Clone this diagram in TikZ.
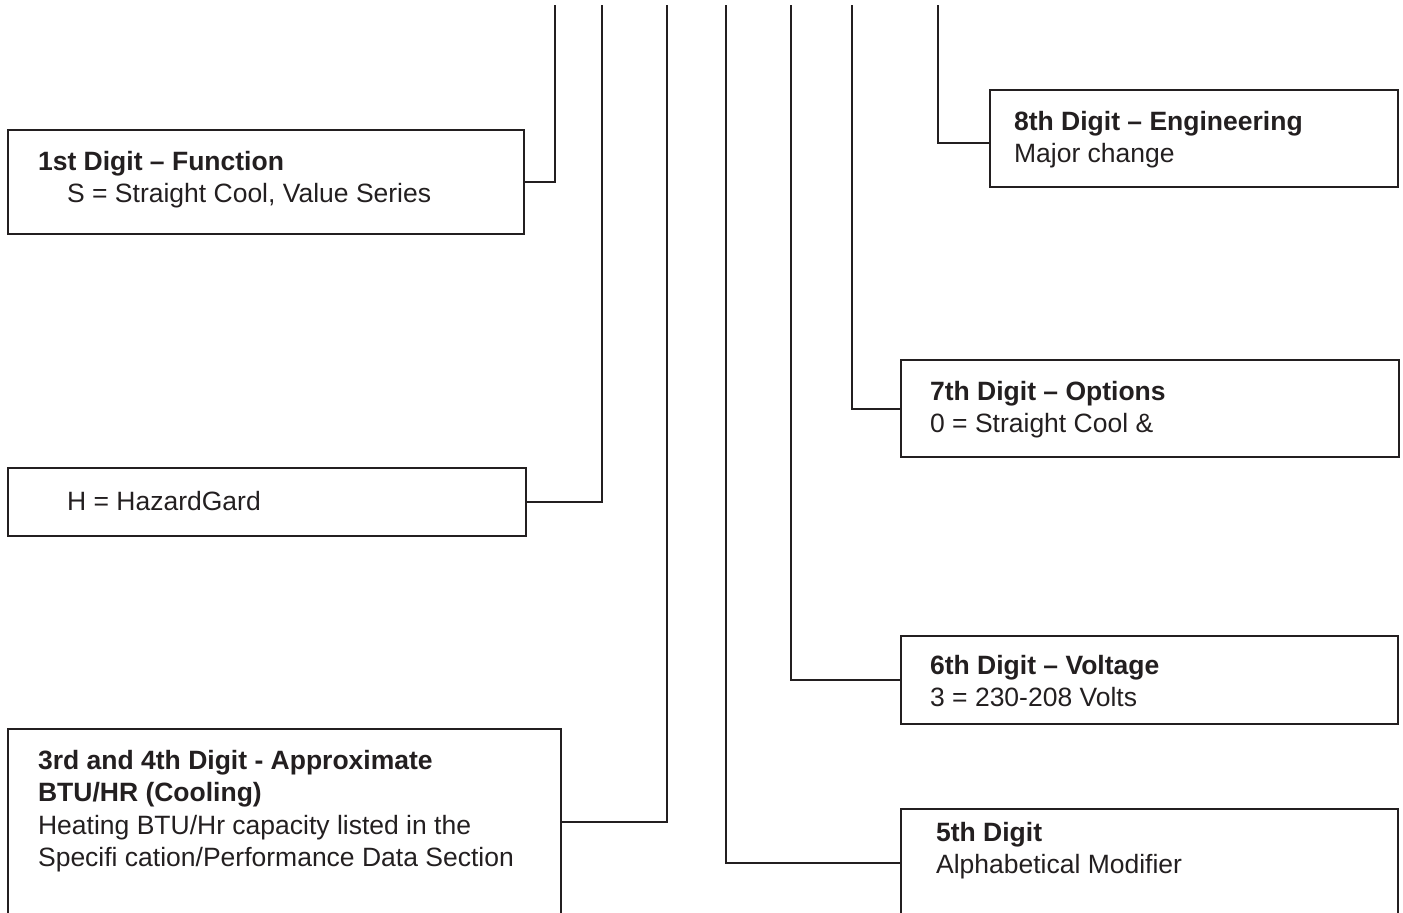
\documentclass[tikz,border=0pt]{standalone}
\usepackage{fontspec}
\setmainfont{Liberation Sans}
\usetikzlibrary{positioning}
\definecolor{ink}{HTML}{231F20}

\begin{document}
\begin{tikzpicture}[x=1pt, y=-1pt, line width=2.2pt, color=ink,
	digitbox/.style={draw, inner sep=0pt, anchor=north west},
	digittext/.style={inner sep=0pt, align=left, font=\fontsize{26.5}{32.5}\selectfont}]
\clip (0, 0) rectangle (1403, 913);
% boxes on the left
\node[digitbox, minimum width=516pt, minimum height=104pt] (d1) at (7, 129) {};
\node[digitbox, minimum width=518pt, minimum height=68pt] (d2) at (7, 467) {};
\node[digitbox, minimum width=553pt, minimum height=186pt] (d34) at (7, 728) {};
% boxes on the right
\node[digitbox, minimum width=408pt, minimum height=97pt] (d8) at (989, 89) {};
\node[digitbox, minimum width=498pt, minimum height=97pt] (d7) at (900, 359) {};
\node[digitbox, minimum width=497pt, minimum height=88pt] (d6) at (900, 635) {};
\node[digitbox, minimum width=497pt, minimum height=108pt] (d5) at (900, 808) {};
% texts
\node[digittext, below right=21pt and 30pt of d1.north west] (d1-text)
	{\textbf{1st Digit – Function}\\\hspace*{29pt}S = Straight Cool, Value Series};
\node[digittext, below right=23pt and 59pt of d2.north west] (d2-text) {H = HazardGard};
\node[digittext, below right=21pt and 30pt of d34.north west] (d34-text)
	{\textbf{3rd and 4th Digit - Approximate}\\\textbf{BTU/HR (Cooling)}\\
	Heating BTU/Hr capacity listed in the\\Specifi cation/Performance Data Section};
\node[digittext, below right=21pt and 24pt of d8.north west] (d8-text)
	{\textbf{8th Digit – Engineering}\\Major change};
\node[digittext, below right=21pt and 29pt of d7.north west] (d7-text)
	{\textbf{7th Digit – Options}\\0 = Straight Cool \&};
\node[digittext, below right=19pt and 29pt of d6.north west] (d6-text)
	{\textbf{6th Digit – Voltage}\\3 = 230-208 Volts};
\node[digittext, below right=13pt and 35pt of d5.north west] (d5-text)
	{\textbf{5th Digit}\\Alphabetical Modifier};
% connectors from the top
\foreach \x/\b/\s in {555/d1/east, 602/d2/east, 667/d34/east, 726/d5/west, 791/d6/west, 852/d7/west}
	\draw (\x, 5) coordinate (top-\b) |- (\b.\s);
\draw (938, 5) coordinate (top-d8) |- ([yshift=-4pt]d8.west);
\end{tikzpicture}
\end{document}
